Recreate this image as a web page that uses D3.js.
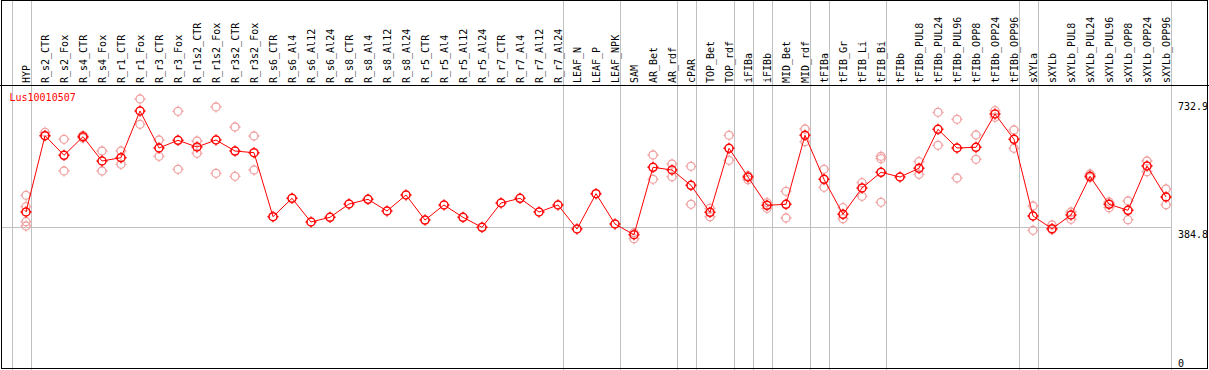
<!DOCTYPE html>
<meta charset="utf-8">
<title>Lus10010507</title>
<style>
body {
  margin: 0;
  background: #fff;
}
svg {
  display: block;
}
text {
  font: 10px "DejaVu Sans Mono", monospace;
}
.domain {
  display: none;
}
</style>
<svg class="chart" width="1209" height="370"></svg>

<script src="https://d3js.org/d3.v7.min.js"></script>
<script>

var geneName = "Lus10010507";

var categories = ["HYP", "R_s2_CTR", "R_s2_Fox", "R_s4_CTR", "R_s4_Fox", "R_r1_CTR", "R_r1_Fox",
  "R_r3_CTR", "R_r3_Fox", "R_r1s2_CTR", "R_r1s2_Fox", "R_r3s2_CTR", "R_r3s2_Fox",
  "R_s6_CTR", "R_s6_Al4", "R_s6_Al12", "R_s6_Al24", "R_s8_CTR", "R_s8_Al4", "R_s8_Al12", "R_s8_Al24",
  "R_r5_CTR", "R_r5_Al4", "R_r5_Al12", "R_r5_Al24", "R_r7_CTR", "R_r7_Al4", "R_r7_Al12", "R_r7_Al24",
  "LEAF_N", "LEAF_P", "LEAF_NPK", "SAM", "AR_Bet", "AR_rdf", "cPAR", "TOP_Bet", "TOP_rdf",
  "iFIBa", "iFIBb", "MID_Bet", "MID_rdf", "tFIBa", "tFIB_Gr", "tFIB_Li", "tFIB_Bi", "tFIBb",
  "tFIBb_PUL8", "tFIBb_PUL24", "tFIBb_PUL96", "tFIBb_OPP8", "tFIBb_OPP24", "tFIBb_OPP96",
  "sXYLa", "sXYLb", "sXYLb_PUL8", "sXYLb_PUL24", "sXYLb_PUL96", "sXYLb_OPP8", "sXYLb_OPP24", "sXYLb_OPP96"];

// mean expression per sample
var means = [426.2, 633.3, 580.1, 630.6, 564.6, 573.6, 700.3, 599.9, 620.8, 602.6, 621.6, 591.7, 587.1,
  413.4, 463.3, 399.0, 411.8, 447.9, 460.6, 428.9, 472.3, 404.4, 445.2, 411.8, 384.6,
  450.6, 463.3, 426.2, 445.2, 380.0, 475.8, 393.6, 364.5, 547.5, 540.2, 498.6, 425.3, 599.1,
  521.2, 444.3, 447.1, 634.4, 514.9, 419.9, 491.3, 533.9, 521.2,
  544.8, 650.6, 599.9, 601.8, 692.2, 623.5, 415.3, 380.8, 418.0, 523.1, 447.1, 430.8, 551.0, 466.9];

// individual replicates
var replicates = [
  [471.5, 440.5, 399.8, 388.2], [642.5, 633.8], [623.5, 537.5], [634.0, 627.0], [591.7, 537.5],
  [591.7, 555.6], [732.9, 664.2], [621.6, 577.4], [699.5, 542.1], [618.9, 585.5], [711.2, 531.2],
  [656.9, 523.1], [632.5, 540.2],
  [], [], [], [], [], [], [], [], [], [], [], [], [], [], [], [], [], [], [],
  [370.0, 353.7], [580.9, 514.9], [556.5, 522.0], [550.2, 447.1], [436.2, 413.4], [634.4, 566.5],
  [524.7, 513.8], [451.4, 436.2], [482.3, 409.9], [651.5, 617.0], [542.1, 493.2], [437.8, 408.0],
  [505.7, 468.8], [577.4, 570.8, 452.5], [],
  [562.7, 528.5], [696.8, 607.2], [677.8, 518.5], [635.2, 569.2], [701.1, 683.2], [648.7, 599.1],
  [442.4, 376.5], [390.9, 378.1], [426.2, 406.3], [529.3, 519.3], [453.3, 437.8], [456.0, 405.3],
  [564.6, 535.6], [488.6, 446.0]];

// last sample of each group (-1 = left edge)
var groupEnds = [-1, 0, 28, 31, 34, 35, 37, 38, 39, 41, 42, 45, 52, 53, 60];

var yTicks = [0, 384.8, 732.9];
var refLine = 384.8;

var svg = d3.select("svg.chart"),
    width = +svg.attr("width"),
    height = +svg.attr("height");

var x = d3.scalePoint().domain(categories).range([26, 1166]),
    step = x.step(),
    y = d3.scaleLinear().domain([0, 732.9]).range([369, 99]);

// group separators
svg.selectAll(".sep")
  .data(groupEnds)
  .enter().append("line")
    .attr("class", "sep")
    .attr("x1", function(d) { return Math.round(x(categories[0]) + step * d + 4.5) + 0.5; })
    .attr("x2", function(d) { return Math.round(x(categories[0]) + step * d + 4.5) + 0.5; })
    .attr("y1", 0)
    .attr("y2", height)
    .attr("stroke", "#c0c0c0");

svg.append("line")
    .attr("x1", 1)
    .attr("x2", 1172)
    .attr("y1", Math.round(y(refLine)) + 0.5)
    .attr("y2", Math.round(y(refLine)) + 0.5)
    .attr("stroke", "#c0c0c0");

// frame + header line
svg.append("rect")
    .attr("x", 1.5).attr("y", 0.5)
    .attr("width", 1206).attr("height", 368)
    .attr("fill", "none").attr("stroke", "#000");
svg.append("line")
    .attr("x1", 0).attr("x2", width)
    .attr("y1", 85.5).attr("y2", 85.5)
    .attr("stroke", "#000");

// column labels
var xAxis = svg.append("g")
    .attr("transform", "translate(0,83)")
    .call(d3.axisBottom(x).tickSize(0));
xAxis.selectAll("text")
    .attr("transform", "rotate(-90)")
    .attr("x", 0)
    .attr("y", 0)
    .attr("dy", "0.35em")
    .style("text-anchor", "start")
    .attr("fill", "#000");

// value labels on the right
var yAxis = svg.append("g")
    .attr("transform", "translate(1178,0)")
    .call(d3.axisRight(y).tickValues(yTicks).tickSize(0).tickFormat(function(d) { return d; }));
yAxis.selectAll("text")
    .attr("x", 0)
    .attr("dy", function(d) { return d === 0 ? "-0.27em" : "1.02em"; })
    .style("text-anchor", "start")
    .attr("fill", "#000");

svg.append("text")
    .attr("x", 9.5)
    .attr("y", 101)
    .attr("fill", "#ff0000")
    .text(geneName);

function marker(cx, cy) {
  var r = 4;
  return "M" + (cx + r) + "," + cy + "A" + r + "," + r + " 0 1,1 " + (cx - r) + "," + cy +
    "A" + r + "," + r + " 0 1,1 " + (cx + r) + "," + cy +
    "M" + cx + "," + (cy - r) + "v-1.5M" + cx + "," + (cy + r) + "v1.5" +
    "M" + (cx - r) + "," + cy + "h-1.5M" + (cx + r) + "," + cy + "h1.5";
}

// replicates
var reps = [];
replicates.forEach(function(list, i) {
  list.forEach(function(v) { reps.push({ cat: categories[i], v: v }); });
});
svg.selectAll(".rep")
  .data(reps)
  .enter().append("path")
    .attr("class", "rep")
    .attr("d", function(d) { return marker(x(d.cat), y(d.v)); })
    .attr("fill", "none")
    .attr("stroke", "#f0a0a0")
    .attr("stroke-width", 1.3);

var line = d3.line()
    .x(function(d, i) { return x(categories[i]); })
    .y(function(d) { return y(d); });

svg.append("path")
    .datum(means)
    .attr("d", line)
    .attr("fill", "none")
    .attr("stroke", "#ff0000")
    .attr("stroke-width", 1);

svg.selectAll(".mean")
  .data(means)
  .enter().append("path")
    .attr("class", "mean")
    .attr("d", function(d, i) { return marker(x(categories[i]), y(d)); })
    .attr("fill", "none")
    .attr("stroke", "#ff0000")
    .attr("stroke-width", 1.5);

</script>
